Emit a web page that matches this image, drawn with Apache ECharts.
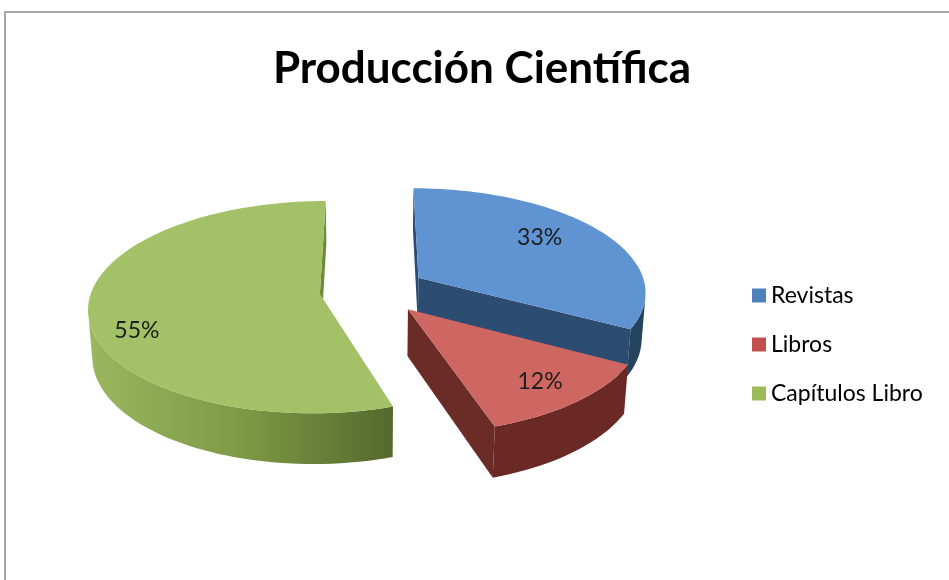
<!DOCTYPE html>
<html>
<head>
<meta charset="utf-8">
<script src="https://cdn.jsdelivr.net/npm/echarts@6/dist/echarts.min.js"></script>
<style>
  html, body { margin: 0; padding: 0; background: #fff; }
  #chart { width: 949px; height: 580px; }
</style>
</head>
<body>
<div id="chart"></div>
<script>
const categories = ["Revistas", "Libros", "Capítulos Libro"];
const values = [33, 12, 55];
const labels = ["33%", "12%", "55%"];

// colores: cara superior, costado, leyenda
const topColors = ["#6093D2", "#CE6661", "#A3C167"];
const cutColors = ["#2C4C71", "#6B2B27", "#6F8A3A"];
const wallColors = [
  "#25425F",
  "#6A2925",
  { type: "linear", x: 0, y: 0, x2: 1, y2: 0, colorStops: [
    { offset: 0, color: "#9AB65E" },
    { offset: 0.5, color: "#7E9A45" },
    { offset: 1, color: "#55692D" }
  ] }
];
const legendColors = ["#4F81BD", "#C0504D", "#9BBB59"];

// camara del pastel 3d (falso)
const view = { cx: 373, cy: 290, scale: 228, tilt: 27 * Math.PI / 180, persp: 0.14, height: 0.23, explode: 0.235 };
const labelPos = [0.66, 0.8, 0.8];
const labelDrop = [-0.18, 0, 0.5];

const total = values.reduce((a, b) => a + b, 0);
const startAngles = [];
let acc = 0;
values.forEach((v) => {
  startAngles.push(90 - (acc / total) * 360);
  acc += v;
});

function project(X, Y, Z) {
  const sa = Math.sin(view.tilt), ca = Math.cos(view.tilt);
  const dep = 1 + view.persp * (Z * ca - Y * sa);
  const u = Y * ca + Z * sa;
  return [view.cx + (view.scale * X) / dep, view.cy - (view.scale * u) / dep];
}

function renderSlice(params, api) {
  const i = params.seriesIndex;
  const span = (api.value(0) / total) * 2 * Math.PI;
  const a1 = (startAngles[i] * Math.PI) / 180;
  const a2 = a1 - span;
  const mid = (a1 + a2) / 2;
  const ox = view.explode * Math.cos(mid), oz = view.explode * Math.sin(mid);
  const H = view.height;
  const D = 1 / view.persp;
  const ca = Math.cos(view.tilt);
  const seen = (nx, nz, X, Z) => nx * -X + nz * (-D * ca - Z) > 0;

  const n = Math.max(8, Math.ceil((span * 180) / Math.PI / 2));
  const rim = [];
  for (let k = 0; k <= n; k++) {
    const t = a1 + ((a2 - a1) * k) / n;
    rim.push([ox + Math.cos(t), oz + Math.sin(t), t]);
  }
  const children = [];

  // caras de corte
  const faces = [
    [a1, -Math.sin(a1), Math.cos(a1)],
    [a2, Math.sin(a2), -Math.cos(a2)]
  ];
  faces.forEach(([t, nx, nz]) => {
    const ex = ox + Math.cos(t), ez = oz + Math.sin(t);
    if (!seen(nx, nz, (ox + ex) / 2, (oz + ez) / 2)) return;
    children.push({
      type: "polygon",
      shape: { points: [project(ox, 0, oz), project(ex, 0, ez), project(ex, -H, ez), project(ox, -H, oz)] },
      style: { fill: cutColors[i] }
    });
  });

  // pared exterior
  const vis = rim.filter((p) => seen(Math.cos(p[2]), Math.sin(p[2]), p[0], p[1]));
  if (vis.length > 1) {
    const pts = vis.map((p) => project(p[0], 0, p[1]));
    for (let k = vis.length - 1; k >= 0; k--) pts.push(project(vis[k][0], -H, vis[k][1]));
    children.push({ type: "polygon", shape: { points: pts }, style: { fill: wallColors[i] } });
  }

  // cara superior
  const topPts = [project(ox, 0, oz)].concat(rim.map((p) => project(p[0], 0, p[1])));
  children.push({ type: "polygon", shape: { points: topPts }, style: { fill: topColors[i] } });

  // etiqueta
  const f = labelPos[i];
  const lp = project(ox + f * Math.cos(mid), -labelDrop[i] * H, oz + f * Math.sin(mid));
  children.push({
    type: "text",
    style: {
      text: labels[i],
      x: lp[0],
      y: lp[1],
      align: "center",
      verticalAlign: "middle",
      font: "23px Lato",
      fill: "#1e1e1e"
    }
  });

  return { type: "group", children: children };
}

const chart = echarts.init(document.getElementById("chart"));

const option = {
  animation: false,
  title: {
    text: "Producción Científica",
    left: 482,
    textAlign: "center",
    top: 47,
    padding: 0,
    textStyle: { fontFamily: "Lato", fontWeight: "bold", fontSize: 44, color: "#000" }
  },
  legend: {
    orient: "vertical",
    left: 752,
    top: 284,
    padding: 0,
    icon: "rect",
    itemWidth: 14,
    itemHeight: 14,
    itemGap: 26,
    data: categories,
    textStyle: { fontFamily: "Lato", fontSize: 23, lineHeight: 23, color: "#000" }
  },
  graphic: [
    {
      type: "rect",
      shape: { x: 5, y: 12, width: 1000, height: 1000 },
      style: { fill: "none", stroke: "#A6A6A6", lineWidth: 2 },
      silent: true
    }
  ],
  series: categories.map((name, i) => ({
    name: name,
    type: "custom",
    coordinateSystem: "none",
    itemStyle: { color: legendColors[i] },
    renderItem: renderSlice,
    data: [values[i]]
  }))
};

chart.setOption(option);
</script>
</body>
</html>
